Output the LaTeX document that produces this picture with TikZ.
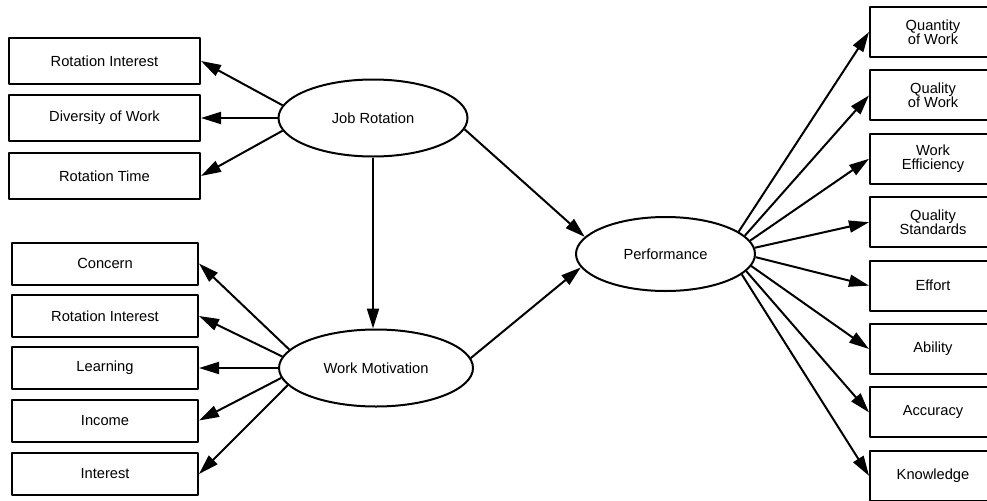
\documentclass[tikz,border=0pt]{standalone}
\usepackage{fontspec}
\setmainfont{Liberation Sans}
\usetikzlibrary{arrows.meta,shapes.geometric}
\begin{document}
\begin{tikzpicture}[x=0.75pt,y=-0.75pt,line join=round,font=\fontsize{11}{10.5}\selectfont,
box/.style={draw,line width=1.5pt,inner sep=0pt,align=center},
lat/.style={draw,ellipse,line width=1.5pt,inner sep=0pt,minimum height=57.75pt},
arr/.style={line width=1.5pt,-{Triangle[length=15pt,width=9pt]}}]
\useasboundingbox (0,0) rectangle (987,500);
\clip (0,0) rectangle (987,500);
\node[lat,minimum width=141.75pt] (jr) at (373,118) {Job Rotation};
\node[lat,minimum width=145.5pt] (wm) at (376,368) {Work Motivation};
\node[lat,minimum width=134.25pt,minimum height=55.5pt] (perf) at (665.5,254) {Performance};
% indicators of job rotation
\foreach \n/\t/\y/\a in {ri/Rotation Interest/61/172,dw/Diversity of Work/118/180,rt/Rotation Time/176/188}{
\node[box,minimum width=143.25pt,minimum height=34.5pt] (\n) at (104.5,\y) {\t};
\draw[arr] (jr.\a) -- (\n.east);}
% indicators of work motivation
\foreach \n/\t/\y/\a in {con/Concern/263.5/168.6,rin/Rotation Interest/316/173.3,lrn/Learning/368/180,inc/Income/420.5/186.5,int/Interest/474/191.6}{
\node[box,minimum width=139.5pt,minimum height=31.5pt] (\n) at (105,\y) {\t};
\draw[arr] (wm.\a) -- (\n.east);}
% indicators of performance
\foreach \n/\t/\a [count=\i from 0] in {qnt/{Quantity\\of Work}/17.4,qlt/{Quality\\of Work}/13.1,eff/{Work\\Efficiency}/9.2,std/{Quality\\Standards}/4,eft/Effort/-2.5,abl/Ability/-8.5,acc/Accuracy/-12.5,knw/Knowledge/-15.4}{
\node[box,minimum width=94.5pt,minimum height=37.5pt] (\n) at (933,{32+63.4*\i}) {\t};
\draw[arr] (perf.\a) -- (\n.west);}
\draw[arr] (jr.south) -- (jr.south |- wm.north);
\draw[arr] (jr.-7) -- (perf.168);
\draw[arr] (wm.6.4) -- (perf.189.6);
\end{tikzpicture}
\end{document}
